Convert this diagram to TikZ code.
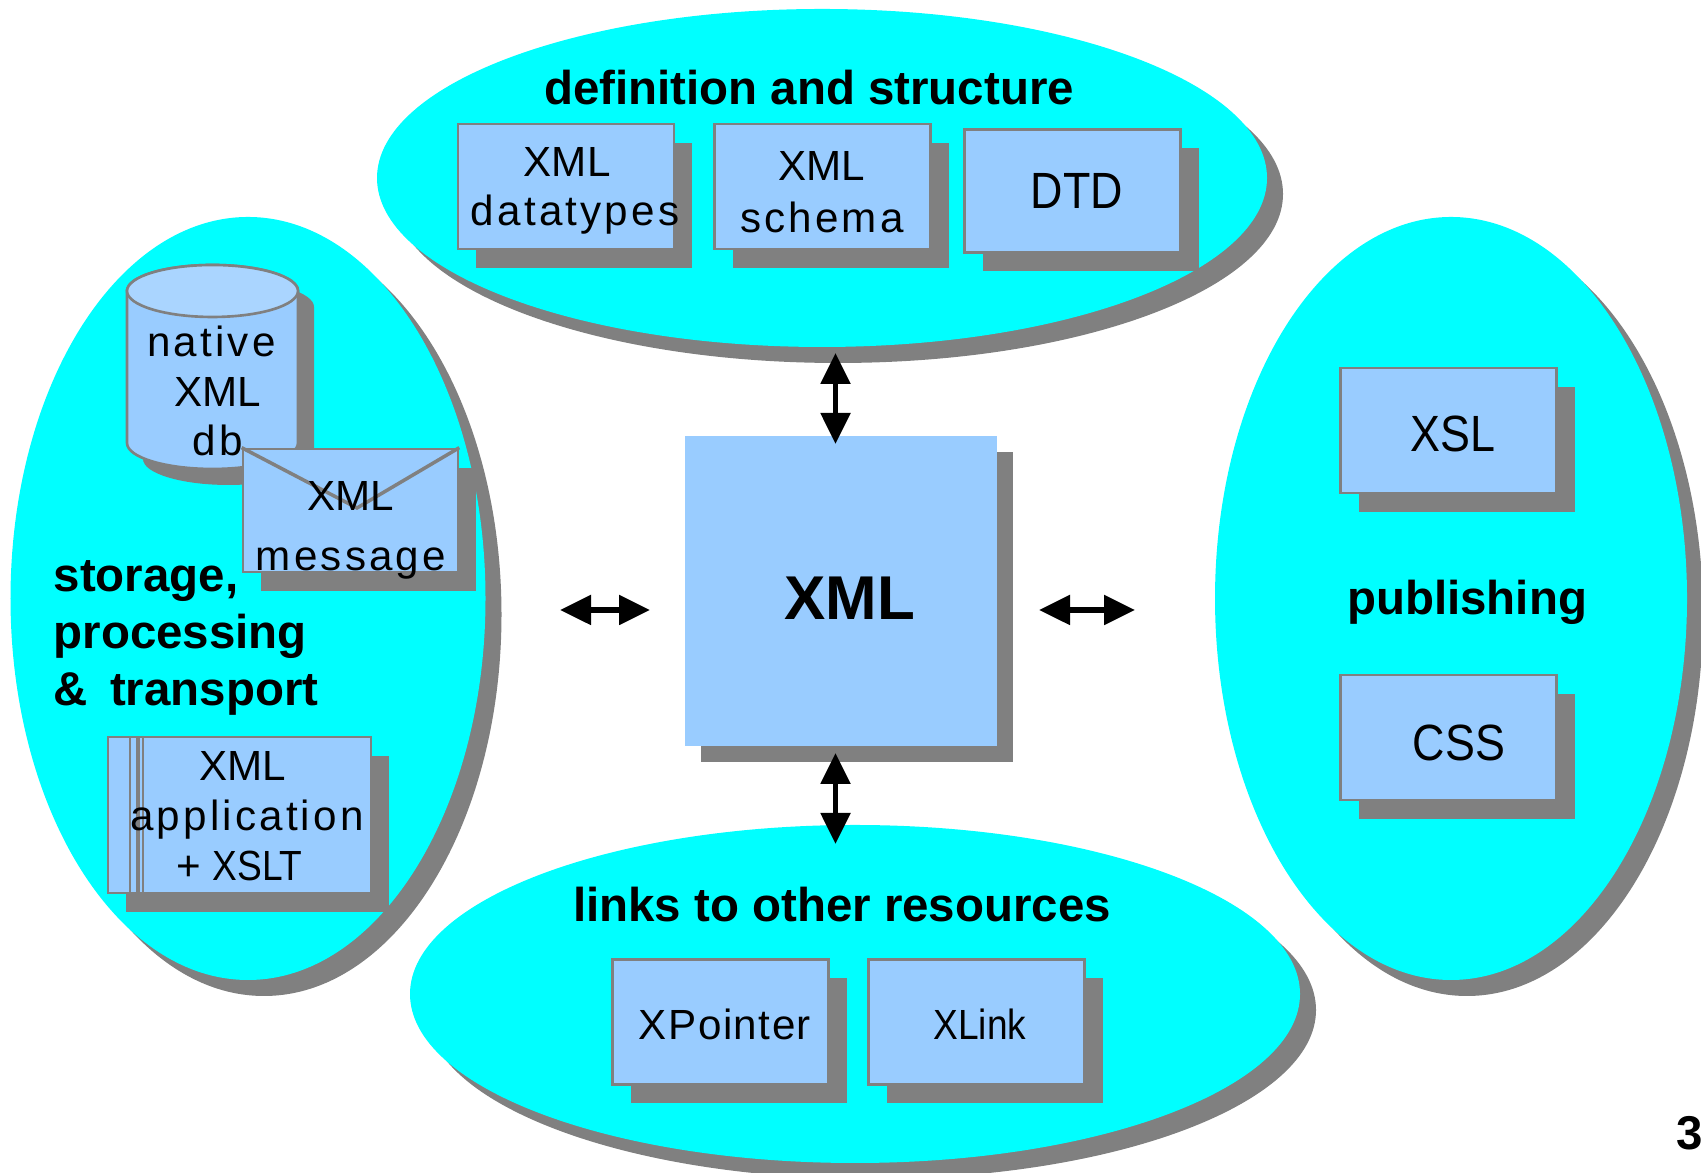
\documentclass[tikz,border=0pt]{standalone}
\usepackage{fontspec}
\usepackage{xcolor}
\usetikzlibrary{arrows.meta}
\usetikzlibrary{shadows}
\usetikzlibrary{shapes.geometric}
\setmainfont{Liberation Sans}
\newfontfamily\widefont[LetterSpace=7.5]{Liberation Sans}
\newfontfamily\loosefont[LetterSpace=3.5]{Liberation Sans}
\newfontfamily\narrowfont[FakeStretch=0.88]{Liberation Sans}
\definecolor{blobcyan}{HTML}{00FFFF}
\definecolor{boxblue}{HTML}{99CCFF}
\definecolor{dbtop}{HTML}{AAD5FF}
\definecolor{shadowgray}{HTML}{808080}
\tikzset{
  blob/.style={ellipse,fill=blobcyan,inner sep=0,
    drop shadow={shadow xshift=0.16cm,shadow yshift=-0.16cm,fill=shadowgray,opacity=1}},
  itembox/.style={rectangle,draw=shadowgray,line width=0.75pt,fill=boxblue,inner sep=0,
    minimum width=2.16cm,minimum height=1.25cm,
    drop shadow={shadow xshift=0.18cm,shadow yshift=-0.19cm,fill=shadowgray,opacity=1}},
  itemtext/.style={align=center,font=\fontsize{12}{14.2}\selectfont,inner sep=0},
  bigtext/.style={font=\fontsize{14.5}{17}\selectfont\narrowfont,inner sep=0},
  headtext/.style={font=\fontsize{13.5}{16.3}\selectfont\bfseries,inner sep=0},
  link/.style={{Triangle[length=0.31cm,width=0.29cm]}-{Triangle[length=0.31cm,width=0.29cm]},line width=1.5pt}
}

\begin{document}
\begin{tikzpicture}
\useasboundingbox[fill=white] (0,0) rectangle (17.01,11.73);

\node[blob,minimum width=8.90cm,minimum height=3.38cm] (defblob) at (8.22,9.95) {};
\node[blob,minimum width=4.75cm,minimum height=7.63cm] (storeblob) at (2.48,5.745) {};
\node[blob,minimum width=4.72cm,minimum height=7.63cm] (pubblob) at (14.51,5.745) {};
\node[blob,minimum width=8.90cm,minimum height=3.38cm] (linkblob) at (8.55,1.79) {};

\node[headtext] (deftitle) at (8.09,10.85) {definition and structure};
\node[headtext] (linktitle) at (8.42,2.68) {links to other resources};
\node[headtext] (pubtitle) at (14.67,5.71) {publishing};
\node[headtext,align=left,anchor=west] (storetitle) at (0.53,5.35) {storage,\\processing\\\&\hspace{6.3pt}transport};

\node[itembox] (datatypes) at (5.66,9.865) {};
\node[itembox] (schema) at (8.225,9.865) {};
\node[itembox,minimum height=1.23cm] (dtd) at (10.725,9.82) {};
\node[itembox] (xsl) at (14.485,7.425) {};
\node[itembox] (css) at (14.485,4.355) {};
\node[itembox] (xpointer) at (7.205,1.51) {};
\node[itembox] (xlink) at (9.765,1.51) {};

\node[itemtext] (datatypestext) at (5.75,9.825) {XML\hspace*{4.5pt}\\[-0.3pt]{\widefont datatypes}};
\node[itemtext] (schematext) at (8.22,9.81) {XML\\[0.6pt]{\widefont schema}};
\node[bigtext] (dtdtext) at (10.77,9.82) {DTD};
\node[bigtext] (xsltext) at (14.53,7.39) {XSL};
\node[bigtext] (csstext) at (14.59,4.30) {CSS};
\node[itemtext] (xpointertext) at (7.25,1.49) {\loosefont XPointer};
\node[itemtext] (xlinktext) at (9.80,1.49) {\narrowfont XLink};

% database drum
\fill[shadowgray] (1.43,8.66) -- (1.43,7.14) arc (180:360:0.855 and 0.26) -- (3.14,8.66) arc (0:180:0.855 and 0.26) -- cycle;
\draw[draw=shadowgray,line width=0.75pt,fill=boxblue] (1.27,8.82) -- (1.27,7.30) arc (180:360:0.855 and 0.26) -- (2.98,8.82) arc (0:180:0.855 and 0.26) -- cycle;
\draw[draw=shadowgray,line width=0.75pt,fill=dbtop] (2.125,8.82) ellipse (0.855 and 0.26);
\node[itemtext] (dbtext) at (2.18,7.82) {{\widefont native}\hspace*{3.7pt}\\XML\\{\widefont db}};

% envelope
\node[itembox,minimum width=2.15cm,minimum height=1.23cm] (message) at (3.505,6.625) {};
\coordinate (flaptip) at (3.57,6.65);
\draw[shadowgray,line width=1pt] (message.north west) -- (flaptip) -- (message.north east);
\node[itemtext] (messagetext) at (3.51,6.425) {XML\\[2.8pt]{\widefont message}};

% stacked sheets
\node[itembox,minimum width=2.63cm,minimum height=1.56cm] (sheets) at (2.395,3.58) {};
\foreach \x/\w in {1.30/0.7pt,1.377/1.25pt,1.43/0.7pt}
  \draw[shadowgray,line width=\w] (\x,4.36) -- (\x,2.80);
\node[itemtext] (sheetstext) at (2.47,3.57) {XML\hspace*{2.5pt}\\{\widefont application}\\+ {\narrowfont XSLT}\hspace*{4.3pt}};

\node[rectangle,fill=boxblue,inner sep=0,minimum width=3.12cm,minimum height=3.10cm,
  drop shadow={shadow xshift=0.155cm,shadow yshift=-0.16cm,fill=shadowgray,opacity=1}] (xml) at (8.41,5.82) {};
\node[font=\fontsize{17.6}{20}\selectfont\bfseries,inner sep=0] (xmltext) at (8.50,5.75) {XML};

\coordinate (upA) at (8.355,8.20);
\coordinate (upB) at (8.355,7.29);
\coordinate (downA) at (8.355,4.20);
\coordinate (downB) at (8.355,3.29);
\coordinate (leftA) at (5.60,5.63);
\coordinate (leftB) at (6.50,5.63);
\coordinate (rightA) at (10.39,5.63);
\coordinate (rightB) at (11.35,5.63);
\draw[link] (upA) -- (upB);
\draw[link] (downA) -- (downB);
\draw[link] (leftA) -- (leftB);
\draw[link] (rightA) -- (rightB);

\node[headtext,anchor=west] (pagenum) at (16.76,0.40) {3};
\end{tikzpicture}
\end{document}
